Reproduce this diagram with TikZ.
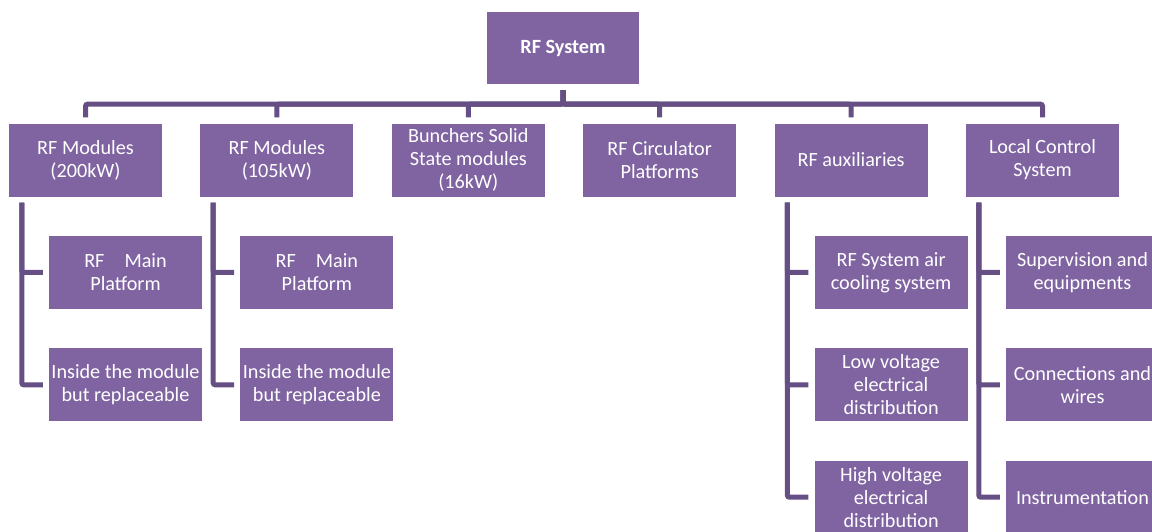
\documentclass[tikz,border=0pt]{standalone}
\usepackage{fontspec}
\setmainfont{Carlito}
\usepackage{xcolor}
\usepackage{tikz}
\usetikzlibrary{positioning}
\definecolor{boxfill}{HTML}{8064A2}
\definecolor{linkcol}{HTML}{654F84}

\begin{document}
\begin{tikzpicture}[
  x=1pt, y=1pt,
  font=\fontsize{20.2}{23}\selectfont,
  node distance=39pt,
  box/.style={fill=boxfill, text=white, minimum width=153pt, minimum height=73pt,
              inner sep=0pt, align=center},
  rootbox/.style={box, minimum width=152pt, minimum height=72pt, font=\fontsize{20.2}{23}\selectfont\bfseries},
  link/.style={draw=linkcol, line width=5pt, rounded corners=2pt, shorten <=6pt, shorten >=6pt},
]
\useasboundingbox (0,0) rectangle (1152,-531);

\node[rootbox] (root) at (563,-48) {RF System};

\node[box] (mod200) at (85.5,-160) {RF Modules\\(200kW)};
\node[box, right=38pt of mod200] (mod105) {RF Modules\\(105kW)};
\node[box, right=38pt of mod105] (bunch) {Bunchers Solid\\State modules\\(16kW)};
\node[box, right=38pt of bunch] (circ) {RF Circulator\\Platforms};
\node[box, right=38pt of circ] (aux) {RF auxiliaries};
\node[box, right=38pt of aux] (lcs) {Local Control\\System};

\node[box, below=of mod200, xshift=40pt] (main200) {RF\hspace{20pt}Main\\Platform};
\node[box, below=of main200] (ins200) {Inside the module\\but replaceable};
\node[box, below=of mod105, xshift=40pt] (main105) {RF\hspace{20pt}Main\\Platform};
\node[box, below=of main105] (ins105) {Inside the module\\but replaceable};

\node[box, below=of aux, xshift=40pt] (cool) {RF System air\\cooling system};
\node[box, below=of cool] (lowv) {Low voltage\\electrical\\distribution};
\node[box, below=of lowv] (highv) {High voltage\\electrical\\distribution};

\node[box, below=of lcs, xshift=40pt] (superv) {Supervision and\\equipments};
\node[box, below=of superv] (wires) {Connections and\\wires};
\node[box, below=of wires] (instr) {Instrumentation};

% top level bus
\draw[link] (root.south) -- ++(0,-20) -| (mod200.north);
\draw[link] (root.south) -- ++(0,-20) -| (mod105.north);
\draw[link] (root.south) -- ++(0,-20) -| (bunch.north);
\draw[link] (root.south) -- ++(0,-20) -| (circ.north);
\draw[link] (root.south) -- ++(0,-20) -| (aux.north);
\draw[link] (root.south) -- ++(0,-20) -| (lcs.north);

% sub items
\draw[link] ([xshift=13pt]mod200.south west) |- (main200.west);
\draw[link] ([xshift=13pt]mod200.south west) |- (ins200.west);
\draw[link] ([xshift=13pt]mod105.south west) |- (main105.west);
\draw[link] ([xshift=13pt]mod105.south west) |- (ins105.west);
\draw[link] ([xshift=13pt]aux.south west) |- (cool.west);
\draw[link] ([xshift=13pt]aux.south west) |- (lowv.west);
\draw[link] ([xshift=13pt]aux.south west) |- (highv.west);
\draw[link] ([xshift=13pt]lcs.south west) |- (superv.west);
\draw[link] ([xshift=13pt]lcs.south west) |- (wires.west);
\draw[link] ([xshift=13pt]lcs.south west) |- (instr.west);

\end{tikzpicture}
\end{document}
